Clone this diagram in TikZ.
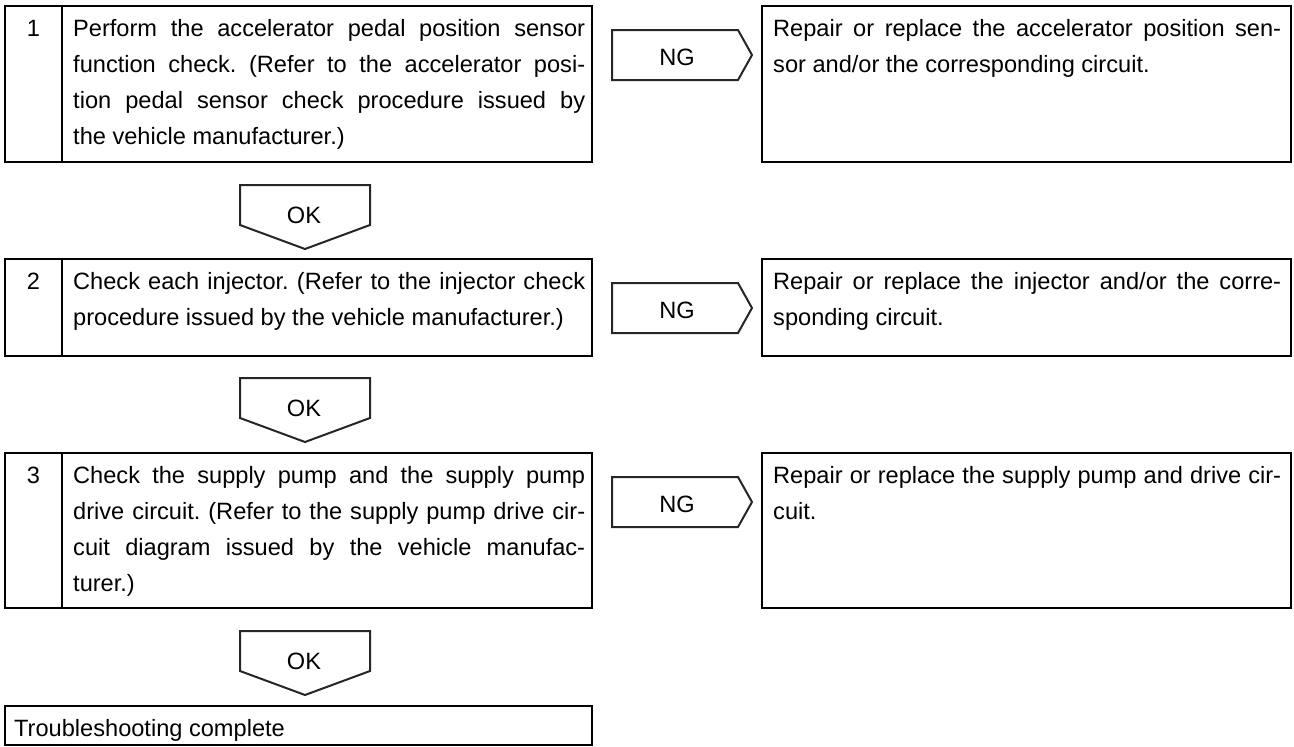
\documentclass[tikz,border=0pt]{standalone}
\usepackage{fontspec}
\setmainfont{Liberation Sans}
\frenchspacing
\newcommand\fsz{\fontsize{23.6}{36}\selectfont\frenchspacing\hyphenpenalty=10000 \tolerance=10000 \pretolerance=-1 }
\begin{document}
\begin{tikzpicture}[x=1pt,y=-1pt,
  frame/.style={draw, line width=2pt, inner sep=0pt, outer sep=0pt, anchor=north west},
  para/.style={font=\fsz, text width=#1, align=justify, inner sep=0pt, anchor=base west},
  num/.style={font=\fsz, inner sep=0pt, anchor=base},
  flag/.style={draw=black!85, line width=2pt, line join=miter},
  flagtext/.style={font=\fsz, inner sep=0pt},
]
\useasboundingbox (0,0) rectangle (1294,747);

% ---------- step 1 ----------
\node[frame, minimum width=57, minimum height=156] (n1) at (5,6) {};
\node[frame, minimum width=530, minimum height=156] (t1) at (62,6) {};
\node[frame, minimum width=529, minimum height=156] (r1) at (762,6) {};
\node[num] (k1) at (33.5,36) {1};
\node[para=512pt] (p1) at (73,36) {Perform the accelerator pedal position sensor\linebreak function check. (Refer to the accelerator posi-\linebreak tion pedal sensor check procedure issued by\linebreak the vehicle manufacturer.)};
\node[para=508pt] (q1) at (773,36) {Repair or replace the accelerator position sen-\linebreak sor and/or the corresponding circuit.};
\draw[flag] (612,30) -- (738,30) -- (752,55) -- (738,80) -- (612,80) -- cycle;
\node[flagtext] (ng1) at (677,57) {NG};
\draw[flag] (240,185) -- (370,185) -- (370,225) -- (305,249) -- (240,225) -- cycle;
\node[flagtext] (ok1) at (304,215) {OK};

% ---------- step 2 ----------
\node[frame, minimum width=57, minimum height=97] (n2) at (5,259) {};
\node[frame, minimum width=530, minimum height=97] (t2) at (62,259) {};
\node[frame, minimum width=529, minimum height=97] (r2) at (762,259) {};
\node[num] (k2) at (33.5,289) {2};
\node[para=512pt] (p2) at (73,289) {Check each injector. (Refer to the injector check\linebreak procedure issued by the vehicle manufacturer.)};
\node[para=508pt] (q2) at (773,289) {Repair or replace the injector and/or the corre-\linebreak sponding circuit.};
\draw[flag] (612,283) -- (738,283) -- (752,308) -- (738,333) -- (612,333) -- cycle;
\node[flagtext] (ng2) at (677,310) {NG};
\draw[flag] (240,378) -- (370,378) -- (370,418) -- (305,442) -- (240,418) -- cycle;
\node[flagtext] (ok2) at (304,408) {OK};

% ---------- step 3 ----------
\node[frame, minimum width=57, minimum height=155] (n3) at (5,453) {};
\node[frame, minimum width=530, minimum height=155] (t3) at (62,453) {};
\node[frame, minimum width=529, minimum height=155] (r3) at (762,453) {};
\node[num] (k3) at (33.5,483) {3};
\node[para=512pt] (p3) at (73,483) {Check the supply pump and the supply pump\linebreak drive circuit. (Refer to the supply pump drive cir-\linebreak cuit diagram issued by the vehicle manufac-\linebreak turer.)};
\node[para=508pt] (q3) at (773,483) {Repair or replace the supply pump and drive cir-\linebreak cuit.};
\draw[flag] (612,477) -- (738,477) -- (752,502) -- (738,527) -- (612,527) -- cycle;
\node[flagtext] (ng3) at (677,504) {NG};
\draw[flag] (240,631) -- (370,631) -- (370,671) -- (305,695) -- (240,671) -- cycle;
\node[flagtext] (ok3) at (304,661) {OK};

% ---------- end ----------
\node[frame, minimum width=587, minimum height=39] (fin) at (5,706) {};
\node[para=560pt] (pf) at (14,736) {Troubleshooting complete};
\end{tikzpicture}
\end{document}
